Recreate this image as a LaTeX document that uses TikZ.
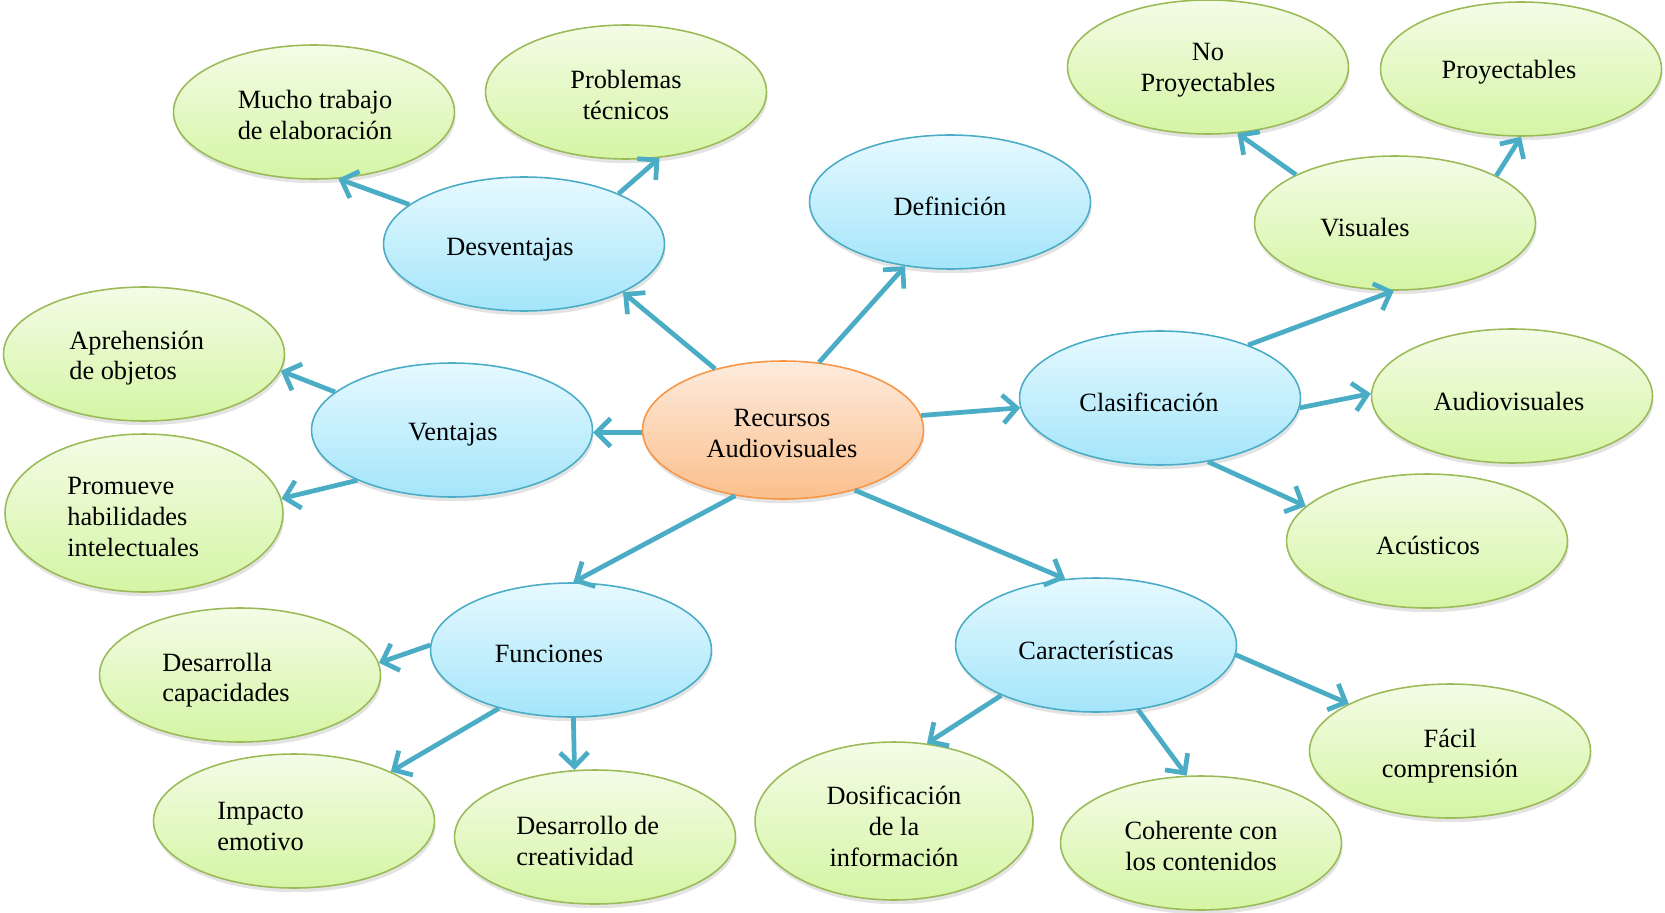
\documentclass[tikz,border=0pt]{standalone}
\usepackage{fontspec}
\setmainfont{Liberation Serif}
\usetikzlibrary{shapes.geometric,arrows.meta,shadows}

\definecolor{linkblue}{HTML}{4BACC6}
\definecolor{hubline}{HTML}{F79646}
\definecolor{hubtop}{HTML}{FDEBDD}
\definecolor{hubbot}{HTML}{FBBF8C}
\definecolor{topicline}{HTML}{4BACC6}
\definecolor{topictop}{HTML}{E6F9FF}
\definecolor{topicbot}{HTML}{A4E5FA}
\definecolor{leafline}{HTML}{9BBB59}
\definecolor{leaftop}{HTML}{F3FCE6}
\definecolor{leafbot}{HTML}{D5F5A4}

\tikzset{
    bubble/.style={ellipse, minimum width=5.62cm, minimum height=2.68cm, inner sep=0pt, line width=0.9pt,
        drop shadow={shadow xshift=0.6pt, shadow yshift=-2.4pt, opacity=0.22}},
    hub/.style={bubble, draw=hubline, top color=hubtop, bottom color=hubbot, minimum height=2.76cm},
    topic/.style={bubble, draw=topicline, top color=topictop, bottom color=topicbot},
    leaf/.style={bubble, draw=leafline, top color=leaftop, bottom color=leafbot},
    tallleaf/.style={leaf, minimum width=5.56cm, minimum height=3.16cm},
    lbl/.style={align=center, inner sep=0pt, yshift=-1.8pt, font=\fontsize{15}{17.6}\selectfont},
    link/.style={draw=linkblue, line width=2.7pt, line join=round, -{Straight Barb[length=8pt,width=16pt]}}
}

\begin{document}
\begin{tikzpicture}[x=0.02cm, y=-0.02cm]
    \useasboundingbox (0,0) rectangle (1665,912);

    % centre
    \node [hub] (rec) at (783,430) {};

    % first level
    \foreach \n/\x/\y in {des/524/244, def/950/202, ven/452/430,
        cla/1160/398, fun/571/650, car/1096/645} {
        \node [topic] (\n) at (\x,\y) {};
    }

    % second level
    \foreach \n/\x/\y in {muc/314/112, pro/626/92, nop/1208/67, pry/1521/69,
        vis/1395/223, apr/144/354, aud/1512/396, acu/1427/541,
        dca/240/675, imp/294/821, dcr/595/837, coh/1201/843, fac/1450/751} {
        \node [leaf] (\n) at (\x,\y) {};
    }
    \node [tallleaf] (prm) at (144,513) {};
    \node [tallleaf] (dos) at (894,821) {};

    % texts
    \node [lbl] (rec-t) at (782,430) {Recursos\\Audiovisuales};
    \node [lbl] (des-t) at (510,246) {Desventajas};
    \node [lbl] (def-t) at (950,203) {Definición};
    \node [lbl] (ven-t) at (453,431) {Ventajas};
    \node [lbl] (cla-t) at (1149,399) {Clasificación};
    \node [lbl] (fun-t) at (549,651) {Funciones};
    \node [lbl] (car-t) at (1096,647) {Características};
    \node [lbl] (muc-t) at (315,112) {Mucho trabajo\\de elaboración};
    \node [lbl] (pro-t) at (626,92) {Problemas\\técnicos};
    \node [lbl] (nop-t) at (1208,67) {No\\Proyectables};
    \node [lbl] (pry-t) at (1509,69) {Proyectables};
    \node [lbl] (vis-t) at (1365,224) {Visuales};
    \node [lbl, align=left, anchor=west] (apr-t) at (69,355) {Aprehensión\\de objetos};
    \node [lbl, align=left, anchor=west] (prm-t) at (67,514) {Promueve\\habilidades\\intelectuales};
    \node [lbl] (aud-t) at (1509,398) {Audiovisuales};
    \node [lbl] (acu-t) at (1428,542) {Acústicos};
    \node [lbl, align=left, anchor=west] (dca-t) at (162,677) {Desarrolla\\capacidades};
    \node [lbl, align=left, anchor=west] (imp-t) at (217,823) {Impacto\\emotivo};
    \node [lbl, align=left, anchor=west] (dcr-t) at (516,838) {Desarrollo de\\creatividad};
    \node [lbl] (dos-t) at (894,823) {Dosificación\\de la\\información};
    \node [lbl] (coh-t) at (1201,843) {Coherente con\\los contenidos};
    \node [lbl] (fac-t) at (1450,753) {Fácil\\comprensión};

    % connectors
    \foreach \a/\b in {rec.138/des.-26, rec.62/def.-125, rec.181/ven.-1, rec.6/cla.184,
        rec.234/fun.88, rec.-40/car.115, des.161/muc.-70, des.28/pro.-63,
        ven.162/apr.-7, ven.208/prm.6, cla.31/vis.269, cla.-4/aud.179,
        cla.-53/acu.164, vis.154/nop.-66, vis.25/pry.-90, fun.178/dca.5,
        fun.219/imp.27, fun.-88/dcr.107, car.208/dos.67, car.-57/coh.102,
        car.-4/fac.155} {
        \draw [link] (\a) -- (\b);
    }
\end{tikzpicture}
\end{document}
